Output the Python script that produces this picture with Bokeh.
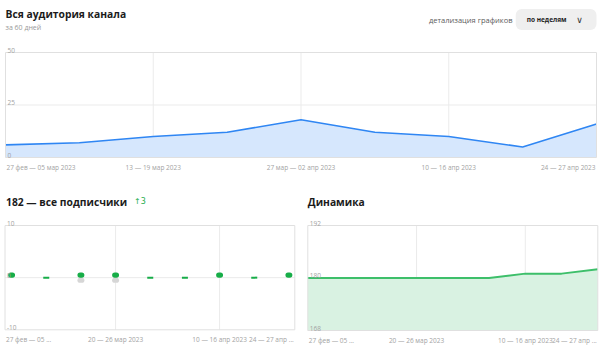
from bokeh.plotting import figure
from bokeh.layouts import column, row
from bokeh.models import Label, Range1d
from bokeh.embed import file_html
from bokeh.resources import INLINE

# ---------------- data ----------------
weeks = list(range(9))

audience = [6, 7, 10, 12, 18, 12, 10, 5, 16]
audience_ticks = [0, 25, 50]
audience_vgrid = [2, 4, 6]
top_label_idx = [0, 2, 4, 6, 8]
top_labels = ["27 фев — 05 мар 2023", "13 — 19 мар 2023", "27 мар — 02 апр 2023",
              "10 — 16 апр 2023", "24 — 27 апр 2023"]

joined = [1, 0, 1, 1, 0, 0, 1, 0, 1]
left = [0, 0, 1, 1, 0, 0, 0, 0, 0]
change_ticks = [-10, 0, 10]

total = [180, 180, 180, 180, 180, 180, 181, 181, 182]
total_ticks = [168, 180, 192]

bottom_vgrid = [3, 6]
bottom_label_idx = [0, 3, 6, 8]
bottom_labels = ["27 фев — 05 ...", "20 — 26 мар 2023", "10 — 16 апр 2023", "24 — 27 апр ..."]

FONT = "Open Sans"
TICK_COLOR = "#a3a3a3"
TITLE_COLOR = "#1b1b1b"
GRID = "#ebebeb"
OUTLINE = "#e0e0e0"
TICK_SIZE = "6.5px"
TITLE_SIZE = "10.3px"


def base(width, height, box, xr, yr):
    """box = (left, top, right, bottom) pixel position of the chart box on this canvas."""
    l, t, r, b = box
    sx = (r - l) / (xr[1] - xr[0])
    sy = (b - t) / (yr[1] - yr[0])
    x_range = Range1d(xr[0] - l / sx, xr[1] + (width - r) / sx)
    y_range = Range1d(yr[0] - (height - b) / sy, yr[1] + t / sy)
    p = figure(width=width, height=height, x_range=x_range, y_range=y_range,
               toolbar_location=None, output_backend="svg", tools="")
    p.axis.visible = False
    p.grid.visible = False
    p.outline_line_color = None
    p.min_border = 0
    p.border_fill_color = "white"
    p.background_fill_color = "white"
    return p


def grid_and_box(p, xr, yr, vgrid, hgrid):
    p.segment(x0=vgrid, x1=vgrid, y0=yr[0], y1=yr[1], line_color=GRID, line_width=1)
    p.segment(x0=xr[0], x1=xr[1], y0=hgrid, y1=hgrid, line_color=GRID, line_width=1)


def outline(p, xr, yr):
    p.quad(left=xr[0], right=xr[1], bottom=yr[0], top=yr[1], fill_color=None,
           line_color=OUTLINE, line_width=1)


def ytick_labels(p, ticks, x0):
    for t in ticks:
        p.add_layout(Label(x=x0, y=t, x_offset=2, text=str(t), text_align="left",
                           text_baseline="bottom", text_font=FONT, text_font_size=TICK_SIZE,
                           text_color=TICK_COLOR))


def xtick_labels(p, idx, labels, xr, y0):
    n = len(idx)
    for k, (i, lab) in enumerate(zip(idx, labels)):
        if k == 0:
            x, align, off = xr[0], "left", 1
        elif k == n - 1:
            x, align, off = xr[1], "right", -1
        else:
            x, align, off = i, "center", 0
        p.add_layout(Label(x=x, y=y0, x_offset=off, y_offset=-10, text=lab, text_align=align,
                           text_baseline="middle", text_font=FONT, text_font_size=TICK_SIZE,
                           text_color=TICK_COLOR))


def title(p, x, y, text, dx=0, dy=24):
    p.add_layout(Label(x=x, y=y, x_offset=dx, y_offset=dy, text=text, text_font=FONT,
                       text_font_size=TITLE_SIZE, text_font_style="bold",
                       text_color=TITLE_COLOR, text_baseline="middle"))


# ---------------- top chart ----------------
xr1, yr1 = (0, 8), (0, 50)
p1 = base(600, 172, (5, 52, 596, 157), xr1, yr1)
grid_and_box(p1, xr1, yr1, audience_vgrid, [25])
p1.varea(x=weeks, y1=0, y2=audience, fill_color="#d6e7fd")
p1.line(x=weeks, y=audience, line_color="#2f86f3", line_width=1.6)
outline(p1, xr1, yr1)
ytick_labels(p1, audience_ticks, xr1[0])
xtick_labels(p1, top_label_idx, top_labels, xr1, yr1[0])
title(p1, xr1[0], yr1[1], "Вся аудитория канала", dy=39)
p1.add_layout(Label(x=xr1[0], y=yr1[1], y_offset=25, text="за 60 дней", text_font=FONT,
                    text_font_size="7px", text_color="#9a9a9a", text_baseline="middle"))
p1.add_layout(Label(x=xr1[1], y=yr1[1], x_offset=-84, y_offset=33, text="детализация графиков",
                    text_font=FONT, text_font_size="7.5px", text_color="#5c5c5c",
                    text_align="right", text_baseline="middle"))
p1.add_layout(Label(x=xr1[1], y=yr1[1], x_offset=0, y_offset=33, text="по неделям",
                    text_font=FONT, text_font_size="6.5px", text_font_style="bold",
                    text_color="#222222", text_align="right", text_baseline="middle",
                    background_fill_color="#efefef",
                    padding=dict(left=11, right=30, top=6, bottom=6), border_radius=6))
p1.add_layout(Label(x=xr1[1], y=yr1[1], x_offset=-17, y_offset=33, text="∨",
                    text_font="DejaVu Sans", text_font_size="9px",
                    text_color="#333333", text_align="center", text_baseline="middle"))

# ---------------- subscribers change ----------------
xr2, yr2 = (-0.19, 8.17), (-10, 10)
p2 = base(300, 180, (4.5, 53, 294.3, 157.3), xr2, yr2)
grid_and_box(p2, xr2, yr2, bottom_vgrid, [0])
pos_x = [w for w, v in zip(weeks, joined) if v > 0]
pos_v = [v for v in joined if v > 0]
neg_x = [w for w, v in zip(weeks, left) if v > 0]
neg_v = [-v for v in left if v > 0]
zero_x = [w for w, a, b in zip(weeks, joined, left) if a == 0 and b == 0]
p2.vbar(x=neg_x, top=0, bottom=neg_v, width=0.2, fill_color="#d6d6d6", line_color=None,
        border_radius=3)
p2.vbar(x=pos_x, top=pos_v, bottom=0, width=0.2, fill_color="#17ad48", line_color=None,
        border_radius=3)
p2.scatter(x=zero_x, y=[0] * len(zero_x), marker="dash", size=6, line_width=2,
           line_color="#17ad48")
outline(p2, xr2, yr2)
ytick_labels(p2, change_ticks, xr2[0])
xtick_labels(p2, bottom_label_idx, bottom_labels, xr2, yr2[0])
title(p2, xr2[0], yr2[1], "182 — все подписчики", dx=1)
p2.add_layout(Label(x=xr2[0], y=yr2[1], x_offset=129, y_offset=24, text="↑3",
                    text_font="DejaVu Sans", text_font_size="8px", text_color="#1fae4f",
                    text_baseline="middle"))

# ---------------- dynamics ----------------
xr3, yr3 = (0, 8), (168, 192)
p3 = base(300, 180, (7.3, 53, 297.3, 158), xr3, yr3)
grid_and_box(p3, xr3, yr3, bottom_vgrid, [180])
p3.varea(x=weeks, y1=yr3[0], y2=total, fill_color="#d9f2e2")
p3.line(x=weeks, y=total, line_color="#3dbf6a", line_width=2)
outline(p3, xr3, yr3)
ytick_labels(p3, total_ticks, xr3[0])
xtick_labels(p3, bottom_label_idx, bottom_labels, xr3, yr3[0])
title(p3, xr3[0], yr3[1], "Динамика")

layout = column(p1, row(p2, p3))
open("out.html", "w").write(file_html(layout, INLINE))
